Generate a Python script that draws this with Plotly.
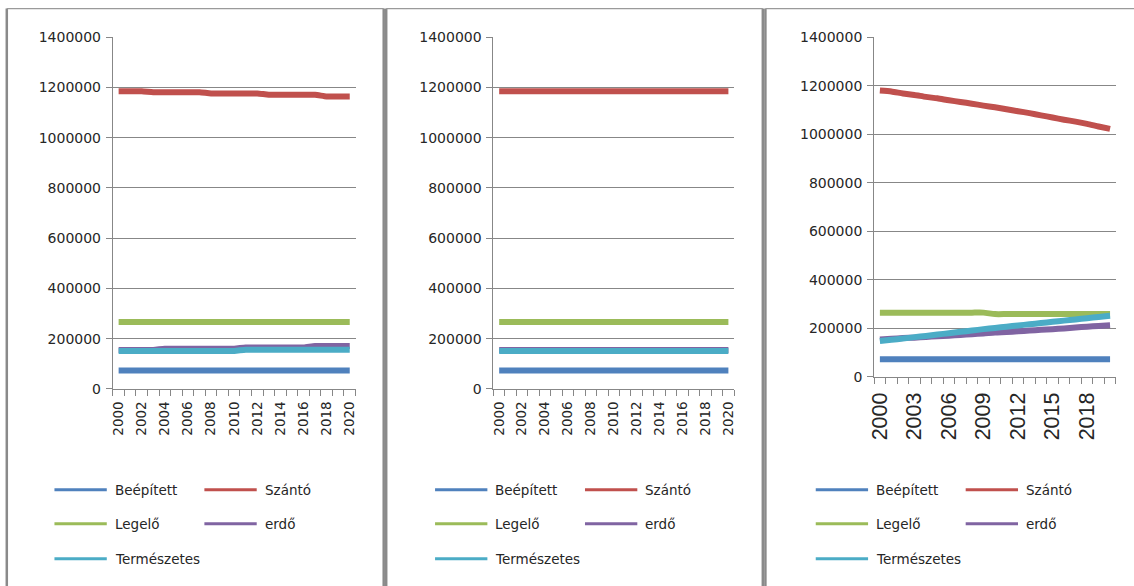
import plotly.graph_objects as go

# ---- data -------------------------------------------------------------
years = [2000, 2001, 2002, 2003, 2004, 2005, 2006, 2007, 2008, 2009, 2010,
         2011, 2012, 2013, 2014, 2015, 2016, 2017, 2018, 2019, 2020]

series_names = ["Beépített", "Szántó", "Legelő", "erdő", "Természetes"]
series_colors = ["#4F81BD", "#C0504D", "#9BBB59", "#8064A2", "#4BACC6"]

# scenario 1
s1_beepitett = [73000, 73000, 73000, 73000, 73000, 73000, 73000, 73000, 73000, 73000, 73000,
                73000, 73000, 73000, 73000, 73000, 73000, 73000, 73000, 73000, 73000]
s1_szanto = [1185000, 1185000, 1185000, 1181000, 1181000, 1181000, 1181000, 1181000, 1176000, 1176000, 1176000,
             1176000, 1176000, 1171000, 1171000, 1171000, 1171000, 1171000, 1164000, 1164000, 1164000]
s1_legelo = [266000, 266000, 266000, 266000, 266000, 266000, 266000, 266000, 266000, 266000, 266000,
             266000, 266000, 266000, 266000, 266000, 266000, 266000, 266000, 266000, 266000]
s1_erdo = [155000, 155000, 155000, 155000, 160000, 160000, 160000, 160000, 160000, 160000, 160000,
           165000, 165000, 165000, 165000, 165000, 165000, 171000, 171000, 171000, 171000]
s1_termeszetes = [151000, 151000, 151000, 151000, 151000, 151000, 151000, 151000, 151000, 151000, 151000,
                  156000, 156000, 156000, 156000, 156000, 156000, 156000, 156000, 156000, 156000]

# scenario 2
s2_beepitett = [73000, 73000, 73000, 73000, 73000, 73000, 73000, 73000, 73000, 73000, 73000,
                73000, 73000, 73000, 73000, 73000, 73000, 73000, 73000, 73000, 73000]
s2_szanto = [1185000, 1185000, 1185000, 1185000, 1185000, 1185000, 1185000, 1185000, 1185000, 1185000, 1185000,
             1185000, 1185000, 1185000, 1185000, 1185000, 1185000, 1185000, 1185000, 1185000, 1185000]
s2_legelo = [266000, 266000, 266000, 266000, 266000, 266000, 266000, 266000, 266000, 266000, 266000,
             266000, 266000, 266000, 266000, 266000, 266000, 266000, 266000, 266000, 266000]
s2_erdo = [155000, 155000, 155000, 155000, 155000, 155000, 155000, 155000, 155000, 155000, 155000,
           155000, 155000, 155000, 155000, 155000, 155000, 155000, 155000, 155000, 155000]
s2_termeszetes = [151000, 151000, 151000, 151000, 151000, 151000, 151000, 151000, 151000, 151000, 151000,
                  151000, 151000, 151000, 151000, 151000, 151000, 151000, 151000, 151000, 151000]

# scenario 3
s3_beepitett = [73000, 73000, 73000, 73000, 73000, 73000, 73000, 73000, 73000, 73000, 73000,
                73000, 73000, 73000, 73000, 73000, 73000, 73000, 73000, 73000, 73000]
s3_szanto = [1180000, 1176000, 1168000, 1162000, 1154000, 1148000, 1140000, 1133000, 1126000, 1118000, 1111000,
             1103000, 1095000, 1087000, 1078000, 1069000, 1060000, 1052000, 1043000, 1032000, 1022000]
s3_legelo = [265000, 265000, 265000, 265000, 265000, 265000, 265000, 265000, 265000, 265000, 259000,
             259000, 259000, 259000, 259000, 259000, 259000, 259000, 259000, 259000, 259000]
s3_erdo = [154000, 157000, 160000, 162000, 165000, 168000, 170000, 173000, 176000, 179000, 183000,
           185000, 188000, 191000, 194000, 197000, 200000, 204000, 207000, 210000, 213000]
s3_termeszetes = [148000, 153000, 158000, 164000, 169000, 175000, 180000, 186000, 191000, 197000, 202000,
                  207000, 212000, 217000, 222000, 227000, 232000, 237000, 242000, 247000, 252000]

tick_years_12 = [2000, 2002, 2004, 2006, 2008, 2010, 2012, 2014, 2016, 2018, 2020]
tick_years_3 = [2000, 2003, 2006, 2009, 2012, 2015, 2018]

panels = [
    [s1_beepitett, s1_szanto, s1_legelo, s1_erdo, s1_termeszetes],
    [s2_beepitett, s2_szanto, s2_legelo, s2_erdo, s2_termeszetes],
    [s3_beepitett, s3_szanto, s3_legelo, s3_erdo, s3_termeszetes],
]

# ---- geometry (figure pixels) ----------------------------------------
W, H = 1134, 586
# plot areas: left, right, top, bottom
plot_px = [(107.6, 352.0, 30.0, 391.6),
           (490.9, 733.3, 30.0, 391.6),
           (874.3, 1117.7, 30.0, 379.3)]
# outer frame of each chart: left and right edge
frame_px = [(0.8, 380.4), (382.9, 762.2), (764.8, 1145)]
frame_top = 0.6

def px_x(v):
    return v / W

def px_y(v):
    return 1 - v / H

GRID = "#878787"
TEXT = "#262626"

fig = go.Figure()

for p, data in enumerate(panels):
    suffix = "" if p == 0 else str(p + 1)
    for name, color, values in zip(series_names, series_colors, data):
        fig.add_trace(go.Scatter(
            x=years, y=values, name=name, mode="lines",
            line=dict(color=color, width=6, shape="spline", smoothing=0.6),
            xaxis="x" + suffix, yaxis="y" + suffix, showlegend=False,
            hoverinfo="x+y+name",
        ))

layout = dict(
    width=W, height=H,
    margin=dict(l=0, r=0, t=0, b=0),
    paper_bgcolor="white", plot_bgcolor="white",
    showlegend=False,
    font=dict(family="DejaVu Sans", color=TEXT),
)

for p, (x0, x1, y0, y1) in enumerate(plot_px):
    suffix = "" if p == 0 else str(p + 1)
    third = p == 2
    tvals = tick_years_3 if third else tick_years_12
    layout["xaxis" + suffix] = dict(
        domain=[px_x(x0), px_x(x1)],
        anchor="y" + suffix,
        range=[years[0] - 0.5, years[-1] + 0.5],
        tickmode="array", tickvals=tvals, ticktext=[str(v) for v in tvals],
        tickangle=-90,
        ticks="outside", ticklen=6, tickcolor="rgba(0,0,0,0)",
        minor=dict(ticks="outside", ticklen=6, tickcolor=GRID, tickwidth=1,
                   tick0=years[0] - 0.5, dtick=1, showgrid=False),
        showgrid=False, zeroline=False,
        showline=True, linecolor=GRID, linewidth=1,
        tickfont=dict(family="Liberation Sans", size=21.5, color=TEXT) if third
        else dict(family="DejaVu Sans", size=13.5, color=TEXT),
        fixedrange=True,
    )
    layout["yaxis" + suffix] = dict(
        domain=[px_y(y1), px_y(y0)],
        anchor="x" + suffix,
        range=[0, 1400000], dtick=200000, tick0=0, tickformat="d",
        ticks="outside", ticklen=6, tickcolor=GRID,
        ticklabelstandoff=2,
        showgrid=True, gridcolor=GRID, gridwidth=1,
        zeroline=False,
        showline=True, linecolor=GRID, linewidth=1,
        tickfont=dict(family="DejaVu Sans", size=14, color=TEXT),
        fixedrange=True,
    )

shapes = []
annotations = []

# chart frames
for fx0, fx1 in frame_px:
    for fx in (fx0, fx1):
        shapes.append(dict(type="line", xref="paper", yref="paper",
                           x0=px_x(fx), x1=px_x(fx), y0=px_y(frame_top), y1=-0.05,
                           line=dict(color="#8a8a8a", width=2.5)))
    shapes.append(dict(type="line", xref="paper", yref="paper",
                       x0=px_x(fx0), x1=px_x(fx1), y0=px_y(frame_top), y1=px_y(frame_top),
                       line=dict(color="#9a9a9a", width=1.2)))

# legend blocks below each chart: two columns, three rows
legend_rows = [495.4, 530.3, 566.3]
for p, (x0, x1, y0, y1) in enumerate(plot_px):
    for i, (name, color) in enumerate(zip(series_names, series_colors)):
        row, col = divmod(i, 2)
        ly = legend_rows[row]
        lx = x0 - 58.8 + col * 151
        shapes.append(dict(type="line", xref="paper", yref="paper",
                           x0=px_x(lx), x1=px_x(lx + 52.7), y0=px_y(ly), y1=px_y(ly),
                           line=dict(color=color, width=3)))
        annotations.append(dict(xref="paper", yref="paper", x=px_x(lx + 58.8), y=px_y(ly),
                                xanchor="left", yanchor="middle", showarrow=False,
                                text=name, font=dict(family="DejaVu Sans", size=13.5, color=TEXT)))

layout["shapes"] = shapes
layout["annotations"] = annotations
fig.update_layout(**layout)

fig.write_html("out.html")
